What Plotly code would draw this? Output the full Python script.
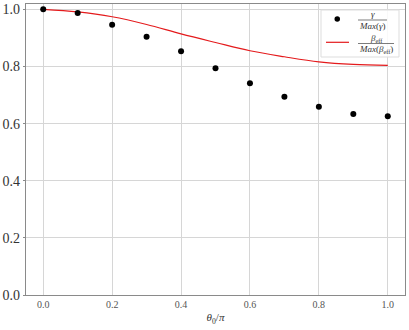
import plotly.graph_objects as go

# data
theta = [0.0, 0.1, 0.2, 0.3, 0.4, 0.5, 0.6, 0.7, 0.8, 0.9, 1.0]
gamma_norm = [1.0, 0.987, 0.946, 0.904, 0.853, 0.794, 0.741, 0.694, 0.659, 0.634, 0.626]
beta_norm = [1.0, 0.991, 0.974, 0.947, 0.914, 0.884, 0.855, 0.834, 0.816, 0.807, 0.804]
xticks = [0.0, 0.2, 0.4, 0.6, 0.8, 1.0]
yticks = [0.0, 0.2, 0.4, 0.6, 0.8, 1.0]

W, H = 409, 330
L, R, T, B = 26, 405, 4, 295
SERIF = "Liberation Serif, DejaVu Serif, serif"


def px(x):
    return (x - L) / (R - L)


def py(y):
    return (B - y) / (B - T)


fig = go.Figure()
fig.add_trace(go.Scatter(x=theta, y=beta_norm, mode="lines", line=dict(color="#e41a1c", width=1.2, shape="spline"),
                         showlegend=False))
fig.add_trace(go.Scatter(x=theta, y=gamma_norm, mode="markers", marker=dict(color="black", size=6),
                         showlegend=False))

fig.update_xaxes(range=[-0.05, 1.05], tickvals=xticks, ticktext=[f"{v:.1f}" for v in xticks],
                 showgrid=True, gridcolor="#d6d6d6", gridwidth=1, zeroline=False, automargin=False,
                 showline=True, mirror=True, linecolor="#8a8a8a", linewidth=1.3, ticks="",
                 tickfont=dict(family=SERIF, size=10, color="#555"),
                 title=dict(text="<i>θ</i><sub>0</sub>/<i>π</i>", font=dict(family=SERIF, size=11, color="#333"), standoff=4))
fig.update_yaxes(range=[0, 1.0187], tickvals=yticks, ticktext=[f"{v:.1f}" for v in yticks],
                 showgrid=True, gridcolor="#d6d6d6", gridwidth=1, zeroline=False, automargin=False,
                 showline=True, mirror=True, linecolor="#8a8a8a", linewidth=1.3,
                 ticks="outside", ticklen=2, tickcolor="#8a8a8a",
                 tickfont=dict(family=SERIF, size=14, color="#333"))

# hand-drawn legend (fractions)
shapes = [
    dict(type="rect", xref="paper", yref="paper", x0=px(321), x1=px(399), y0=py(57), y1=py(10),
         line=dict(color="#dddddd", width=1), fillcolor="rgba(255,255,255,0.85)", layer="above"),
    dict(type="circle", xref="paper", yref="paper", x0=px(334.5), x1=px(340), y0=py(21.7), y1=py(16.3),
         line=dict(color="black", width=0), fillcolor="black", layer="above"),
    dict(type="line", xref="paper", yref="paper", x0=px(326), x1=px(349), y0=py(42.3), y1=py(42.3),
         line=dict(color="#e41a1c", width=1.2), layer="above"),
    dict(type="line", xref="paper", yref="paper", x0=px(358), x1=px(387), y0=py(20), y1=py(20),
         line=dict(color="#444", width=0.7), layer="above"),
    dict(type="line", xref="paper", yref="paper", x0=px(358), x1=px(394), y0=py(43.5), y1=py(43.5),
         line=dict(color="#444", width=0.7), layer="above"),
]
fig.update_layout(shapes=shapes)

lab = dict(xref="paper", yref="paper", showarrow=False, yanchor="middle", xanchor="center",
           font=dict(family=SERIF, size=9, color="#333"))
fig.add_annotation(x=px(372.5), y=py(14.5), text="<i>γ</i>", **lab)
fig.add_annotation(x=px(372.5), y=py(26), text="<i>Max</i>(<i>γ</i>)", **lab)
fig.add_annotation(x=px(376), y=py(38), text="<i>β</i><sub>eff</sub>", **lab)
fig.add_annotation(x=px(376), y=py(49.5), text="<i>Max</i>(<i>β</i><sub>eff</sub>)", **lab)

fig.update_layout(width=W, height=H, margin=dict(l=L, r=W - R, t=T, b=H - B),
                  plot_bgcolor="white", paper_bgcolor="white")
fig.write_html("out.html", config={"displayModeBar": False},
               post_script="document.body.style.margin='0';")
